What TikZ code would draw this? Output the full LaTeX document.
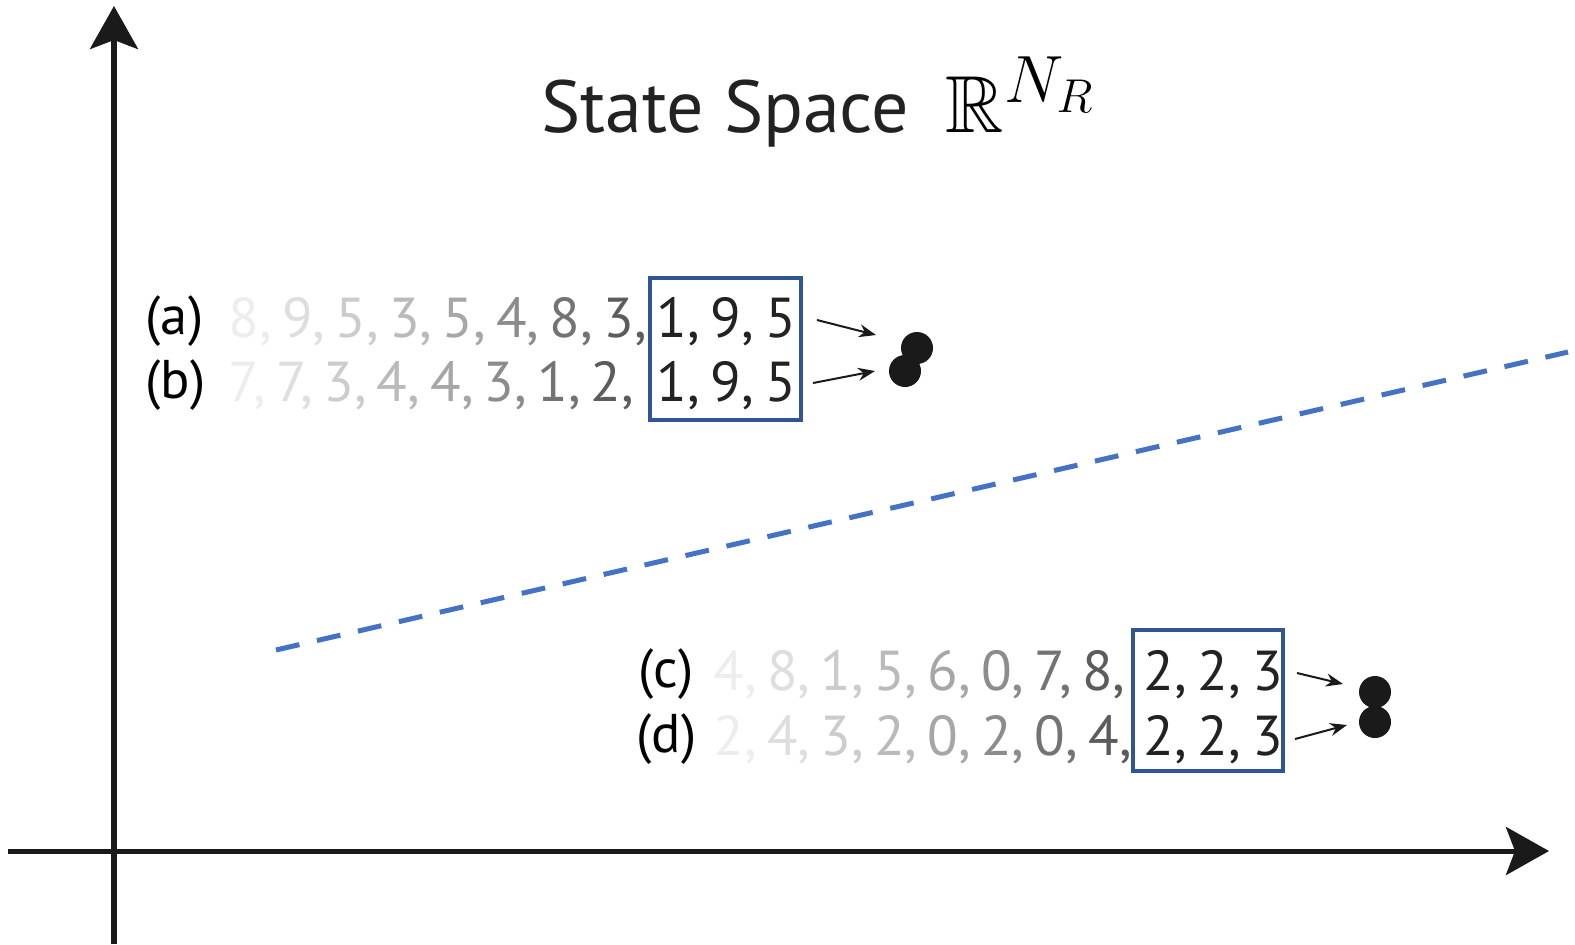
\RequirePackage{fix-cm}
\documentclass[tikz,border=0pt]{standalone}
\usepackage{amssymb}
\usepackage{fontspec}
\setmainfont{PT Sans}
\DeclareMathSizes{23}{23}{19}{13.5}
\usetikzlibrary{arrows.meta}
\definecolor{axisc}{HTML}{1A1A1A}
\definecolor{boxc}{HTML}{2F5597}
\definecolor{dashc}{HTML}{4472C4}
\definecolor{txtc}{HTML}{222222}
\definecolor{ga}{gray}{0.93}
\definecolor{gb}{gray}{0.87}
\definecolor{gc}{gray}{0.80}
\definecolor{gd}{gray}{0.73}
\definecolor{ge}{gray}{0.65}
\definecolor{gf}{gray}{0.55}
\definecolor{gg}{gray}{0.45}
\definecolor{gh}{gray}{0.36}
\newcommand{\gap}{\hspace{2.9pt}}
\newcommand{\seqrow}[8]{\textcolor{ga}{#1,}\gap\textcolor{gb}{#2,}\gap\textcolor{gc}{#3,}\gap\textcolor{gd}{#4,}\gap\textcolor{ge}{#5,}\gap\textcolor{gf}{#6,}\gap\textcolor{gg}{#7,}\gap\textcolor{gh}{#8,}}
\newcommand{\keeprow}[3]{#1,\hspace{3.1pt}#2,\hspace{3.1pt}#3}
\begin{document}
\begin{tikzpicture}[x=0.01cm,y=-0.01cm,
  axisline/.style={line width=0.05cm, draw=axisc, -{Stealth[length=0.43cm,width=0.48cm,inset=0.09cm]}},
  seqtext/.style={inner sep=0pt, anchor=base west, font=\fontsize{16}{19}\selectfont},
  lbltext/.style={inner sep=0pt, anchor=base west, font=\fontsize{15.5}{19}\selectfont, text=black},
  keeptext/.style={inner sep=0pt, anchor=base west, font=\fontsize{16}{19}\selectfont, text=txtc},
  framebox/.style={draw=boxc, line width=0.045cm, inner sep=0pt},
  dot/.style={circle, fill=axisc, inner sep=0pt, minimum size=0.32cm},
  pointer/.style={line width=0.02cm, draw=axisc, -{Stealth[length=0.17cm,width=0.13cm]}},
  sepline/.style={line width=0.05cm, draw=dashc, dash pattern=on 0.24cm off 0.18cm}]
\useasboundingbox (0,0) rectangle (1575,944);
% axes
\coordinate (yb) at (114,944);
\coordinate (yt) at (114,6);
\coordinate (xl) at (8,851);
\coordinate (xr) at (1549,851);
\draw[axisline] (yb) -- (yt);
\draw[axisline] (xl) -- (xr);
% title
\node[inner sep=0pt, anchor=base west, font=\fontsize{21}{25}\selectfont, text=txtc] (title) at (541,132) {State Space};
\node[inner sep=0pt, anchor=base west, font=\fontsize{23}{28}\selectfont] (space) at (945,132) {$\mathbb{R}^{N_R}$};
% separating line
\coordinate (ds) at (276,650);
\coordinate (de) at (1568,352);
\draw[sepline] (ds) -- (de);
% group a b
\node[framebox, minimum width=1.51cm, minimum height=1.42cm] (boxab) at (725.5,349) {};
\node[lbltext] (la) at (145,334) {(a)};
\node[lbltext] (lb) at (145,398) {(b)};
\node[seqtext] (sa) at (228,337) {\seqrow{8}{9}{5}{3}{5}{4}{8}{3}};
\node[seqtext] (sb) at (228,401) {\seqrow{7}{7}{3}{4}{4}{3}{1}{2}};
\node[keeptext] (ka) at (656,337) {\keeprow{1}{9}{5}};
\node[keeptext] (kb) at (656,401) {\keeprow{1}{9}{5}};
\node[dot] (da) at (917,348) {};
\node[dot] (db) at (905,371) {};
\coordinate (pa1) at (817,320);
\coordinate (pa2) at (876,335);
\coordinate (pb1) at (813,383);
\coordinate (pb2) at (875,371);
\draw[pointer] (pa1) -- (pa2);
\draw[pointer] (pb1) -- (pb2);
% group c d
\node[framebox, minimum width=1.50cm, minimum height=1.41cm] (boxcd) at (1208,700.5) {};
\node[lbltext] (lc) at (638,687) {(c)};
\node[lbltext] (ld) at (636,752) {(d)};
\node[seqtext] (sc) at (713,690) {\seqrow{4}{8}{1}{5}{6}{0}{7}{8}};
\node[seqtext] (sd) at (713,755) {\seqrow{2}{4}{3}{2}{0}{2}{0}{4}};
\node[keeptext] (kc) at (1143,690) {\keeprow{2}{2}{3}};
\node[keeptext] (kd) at (1143,755) {\keeprow{2}{2}{3}};
\node[dot] (dc) at (1375,692) {};
\node[dot] (dd) at (1375,722) {};
\coordinate (pc1) at (1297,673);
\coordinate (pc2) at (1343,684);
\coordinate (pd1) at (1295,739);
\coordinate (pd2) at (1347,725);
\draw[pointer] (pc1) -- (pc2);
\draw[pointer] (pd1) -- (pd2);
\end{tikzpicture}
\end{document}
